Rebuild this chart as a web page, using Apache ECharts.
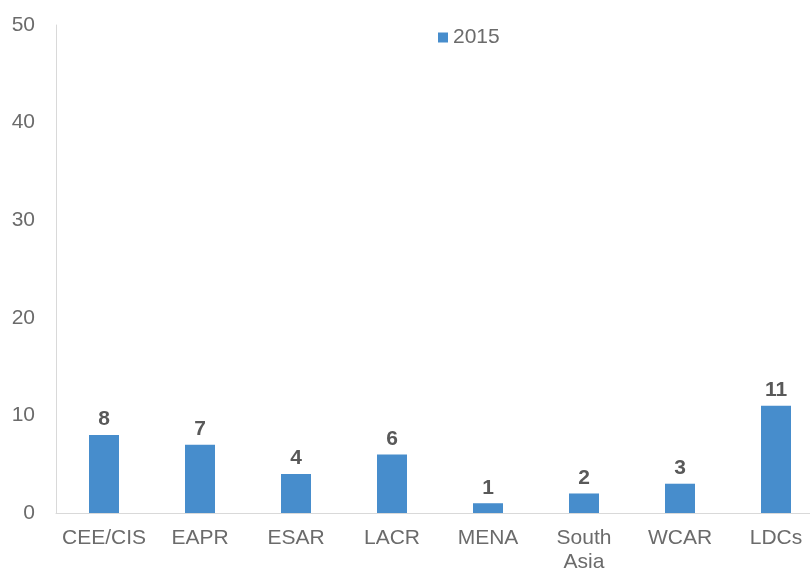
<!DOCTYPE html>
<html>
<head>
<meta charset="utf-8">
<script src="https://cdn.jsdelivr.net/npm/echarts@6/dist/echarts.min.js"></script>
<style>
  html, body { margin: 0; padding: 0; background: #fff; overflow: hidden; }
  /* plot area runs a little past the right edge of the window, like the original */
  #chart { width: 824px; height: 574px; }
</style>
</head>
<body>
<div id="chart"></div>
<script>
// categories and values
const categories = ["CEE/CIS", "EAPR", "ESAR", "LACR", "MENA", "South\nAsia", "WCAR", "LDCs"];
const values2015 = [8, 7, 4, 6, 1, 2, 3, 11];
const seriesName = "2015";

const chart = echarts.init(document.getElementById("chart"));

const option = {
  animation: false,
  textStyle: { fontFamily: "Liberation Sans, Arial, sans-serif" },
  legend: {
    data: [seriesName],
    left: 433,
    top: 22,
    icon: "rect",
    itemWidth: 10,
    itemHeight: 10,
    itemGap: 6,
    textStyle: { color: "#6b6b6b", fontSize: 21 }
  },
  grid: {
    left: 56,
    top: 25,
    right: 0,
    bottom: 61,
    containLabel: false
  },
  xAxis: {
    type: "category",
    data: categories,
    axisLine: { lineStyle: { color: "#d9d9d9", width: 1 } },
    axisTick: { show: false },
    axisLabel: {
      color: "#6b6b6b",
      fontSize: 21,
      margin: 13,
      lineHeight: 24,
      interval: 0
    }
  },
  yAxis: {
    type: "value",
    min: 0,
    max: 50,
    interval: 10,
    axisLine: { show: true, lineStyle: { color: "#d9d9d9", width: 1 } },
    axisTick: { show: false },
    splitLine: { show: false },
    axisLabel: { color: "#6b6b6b", fontSize: 21, margin: 21 }
  },
  series: [
    {
      name: seriesName,
      type: "bar",
      data: values2015,
      barWidth: 30,
      itemStyle: { color: "#478dcc" },
      label: {
        show: true,
        position: "top",
        distance: 5,
        color: "#595959",
        fontWeight: "bold",
        fontSize: 21
      }
    }
  ]
};

chart.setOption(option);
</script>
</body>
</html>
